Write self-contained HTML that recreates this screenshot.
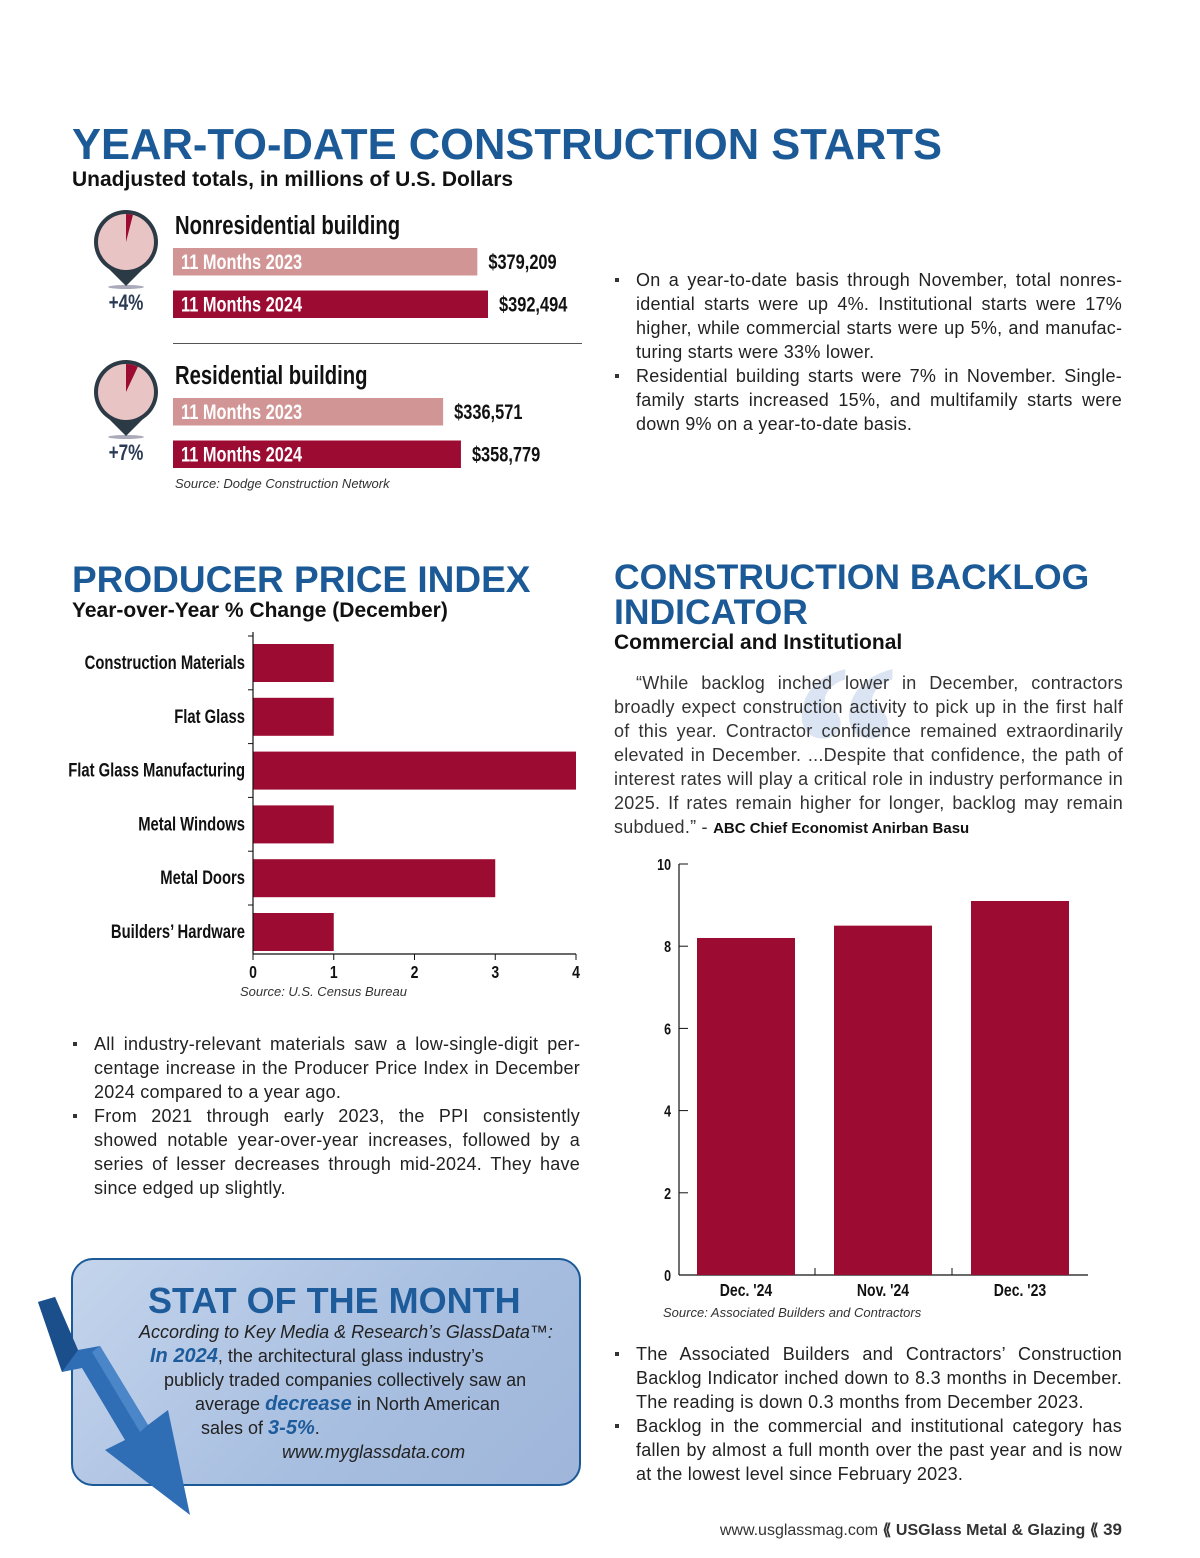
<!DOCTYPE html>
<html><head><meta charset="utf-8"><style>
body{margin:0;width:1200px;height:1558px;background:#fff;position:relative;font-family:"Liberation Sans",sans-serif;color:#222;overflow:hidden}
.a{position:absolute}
.h1{color:#1b5a96;font-weight:bold}
.sub{font-weight:bold;font-size:21px;color:#111}
.txt{font-size:18px;line-height:24px;text-align:justify;color:#222;letter-spacing:0.25px}
ul{margin:0;padding:0;list-style:none}
li{position:relative;padding-left:21px}
li:before{content:"";position:absolute;left:0;top:10px;width:4px;height:4px;background:#333}
</style></head><body>
<div class="a h1" style="left:72px;top:121px;font-size:43.5px">YEAR-TO-DATE CONSTRUCTION STARTS</div>
<div class="a sub" style="left:72px;top:168px">Unadjusted totals, in millions of U.S. Dollars</div>

<svg class="a" style="left:0;top:200px" width="600" height="300" id="starts"></svg>

<div class="a txt" style="left:615px;top:268px;width:507px"><ul>
<li>On a year-to-date basis through November, total nonres&shy;idential starts were up 4%. Institutional starts were 17% higher, while commercial starts were up 5%, and manufac&shy;turing starts were 33% lower.</li>
<li>Residential building starts were 7% in November. Sin&shy;gle-family starts increased 15%, and multifamily starts were down 9% on a year-to-date basis.</li></ul></div>

<div class="a h1" style="left:72px;top:559px;font-size:37px">PRODUCER PRICE INDEX</div>
<div class="a sub" style="left:72px;top:599px">Year-over-Year % Change (December)</div>
<svg class="a" style="left:0;top:630px" width="600" height="380" id="ppi"></svg>
<div class="a txt" style="left:73px;top:1032px;width:507px"><ul>
<li>All industry-relevant materials saw a low-single-digit per&shy;centage increase in the Producer Price Index in December 2024 compared to a year ago.</li>
<li>From 2021 through early 2023, the PPI consistently showed notable year-over-year increases, followed by a series of lesser decreases through mid-2024. They have since edged up slightly.</li></ul></div>

<div class="a" style="left:71px;top:1258px;width:506px;height:224px;border:2px solid #1b5a96;border-radius:22px;background:linear-gradient(135deg,#c4d4ec,#a7bee0 60%,#9fb6da)"></div>
<svg class="a" style="left:0;top:0" width="220" height="1558">
<polygon points="38,1302 55,1297 78,1350 100,1346 148,1425 168,1410 190,1515 105,1450 125,1440 82,1368 62,1372" fill="#2f6db5"/>
<polygon points="38,1302 55,1297 78,1350 62,1372" fill="#1b4f8c"/>
<polygon points="100,1346 148,1425 140,1432 92,1352" fill="#4a86c8"/>
</svg>
<div class="a h1" style="left:148px;top:1280px;font-size:36px;color:#1d5b9b">STAT OF THE MONTH</div>
<div class="a" style="left:0;top:1320px;font-size:18px;line-height:24px;color:#222">
<div class="a" style="left:139px;top:0;white-space:nowrap;font-style:italic">According to Key Media &amp; Research’s GlassData™:</div>
<div class="a" style="left:150px;top:24px;white-space:nowrap"><b style="color:#1d5b9b;font-style:italic;font-size:20px">In 2024</b>, the architectural glass industry’s</div>
<div class="a" style="left:164px;top:48px;white-space:nowrap">publicly traded companies collectively saw an</div>
<div class="a" style="left:195px;top:72px;white-space:nowrap">average <b style="color:#1d5b9b;font-style:italic;font-size:20px">decrease</b> in North American</div>
<div class="a" style="left:201px;top:96px;white-space:nowrap">sales of <b style="color:#1d5b9b;font-style:italic;font-size:20px">3-5%</b>.</div>
<div class="a" style="left:282px;top:120px;white-space:nowrap;font-style:italic">www.myglassdata.com</div>
</div>

<div class="a h1" style="left:614px;top:560px;font-size:35.5px;line-height:35px">CONSTRUCTION BACKLOG<br>INDICATOR</div>
<div class="a sub" style="left:614px;top:631px">Commercial and Institutional</div>
<div class="a" style="left:780px;top:630px;font-size:230px;font-family:'Liberation Serif',serif;font-style:italic;color:#dbe4f2;font-weight:bold;line-height:1">“</div>
<div class="a txt" style="left:614px;top:671px;width:509px;color:#333;text-indent:22px">“While backlog inched lower in December, contractors broadly expect construction activity to pick up in the first half of this year. Contractor confidence remained extraordinarily elevated in December. ...Despite that confidence, the path of interest rates will play a critical role in industry performance in 2025. If rates remain higher for longer, backlog may remain subdued.” - <b style="font-size:15px;color:#111;letter-spacing:0">ABC Chief Economist Anirban Basu</b></div>
<svg class="a" style="left:600px;top:850px" width="520" height="480" id="bl"></svg>
<div class="a txt" style="left:615px;top:1342px;width:507px"><ul>
<li>The Associated Builders and Contractors’ Construction Backlog Indicator inched down to 8.3 months in December. The reading is down 0.3 months from December 2023.</li>
<li>Backlog in the commercial and institutional category has fallen by almost a full month over the past year and is now at the lowest level since February 2023.</li></ul></div>

<div class="a" style="right:78px;top:1520px;font-size:16px;color:#333">www.usglassmag.com <b>⟪ USGlass Metal &amp; Glazing ⟪</b> <b style="font-size:17px">39</b></div>

<script>
const NS="http://www.w3.org/2000/svg";
function mk(svg,tag,attrs,text){const e=document.createElementNS(NS,tag);for(const k in attrs)e.setAttribute(k,attrs[k]);if(text!==undefined)e.textContent=text;svg.appendChild(e);return e;}
function ct(svg,x,y,text,size,anchor,fill,sx){return mk(svg,'text',{x:0,y:0,transform:`translate(${x},${y}) scale(${sx||0.78},1)`,'font-size':size,'font-weight':'bold','text-anchor':anchor||'start',fill:fill||'#111'},text);}

// starts data
const startGroups=["Nonresidential building","Residential building"];
const startLabels=["11 Months 2023","11 Months 2024"];
const startVals2023=[379209,336571];
const startVals2024=[392494,358779];
const startPct=["+4%","+7%"];
const startFrac=[0.04,0.07];
(function(){
 const s=document.getElementById('starts');
 const x0=173,k=315/392494;
 const xs=v=>v*k;
 startGroups.forEach((g,i)=>{
  const oy=i*150;
  let t=ct(s,175,34+oy,g,26);
  
  [startVals2023[i],startVals2024[i]].forEach((v,j)=>{
   const y=48+oy+j*42.5;
   const r=mk(s,'rect',{x:x0,y:y,width:xs(v),height:27.5,fill:j?'#9c0b32':'#d29595'});
   
   ct(s,x0+8,y+21,startLabels[j],21,'start','#fff');
   const vt=ct(s,x0+xs(v)+11,y+21,'$'+v.toLocaleString('en-US'),21);
   
  });
  const cx=126,cy=42+oy,R=28;
  mk(s,'ellipse',{cx:cx,cy:cy+45,rx:18,ry:2,fill:'#aab'});
  mk(s,'path',{d:`M${cx-22},${cy+22} L${cx},${cy+44} L${cx+22},${cy+22} Z`,fill:'#2b3a44'});
  mk(s,'circle',{cx:cx,cy:cy,r:R+4,fill:'#2b3a44'});
  mk(s,'circle',{cx:cx,cy:cy,r:R,fill:'#e9c4c4'});
  const a=startFrac[i]*2*Math.PI;
  mk(s,'path',{d:`M${cx},${cy} L${cx},${cy-R} A${R},${R} 0 0 1 ${cx+R*Math.sin(a)},${cy-R*Math.cos(a)} Z`,fill:'#9c0b32'});
  const pt=ct(s,cx,110+oy,startPct[i],22,'middle','#2b3a55');
  
 });
 mk(s,'line',{x1:173,y1:143.5,x2:582,y2:143.5,stroke:'#555','stroke-width':1});
 mk(s,'text',{x:175,y:288,'font-size':13,'font-style':'italic',fill:'#333'},'Source: Dodge Construction Network');
})();

// PPI data
const ppiCats=["Construction Materials","Flat Glass","Flat Glass Manufacturing","Metal Windows","Metal Doors","Builders’ Hardware"];
const ppiVals=[1,1,4,1,3,1];
const ppiTicks=[0,1,2,3,4];
(function(){
 const s=document.getElementById('ppi');
 const x=v=>253+v*80.75;
 const yc=i=>33+i*53.8;
 ppiCats.forEach((c,i)=>{
  const r=mk(s,'rect',{x:x(0),y:yc(i)-19,width:x(ppiVals[i])-x(0),height:38,fill:'#9c0b32'});
  
  ct(s,245,yc(i)+6,c,19,'end');
  mk(s,'line',{x1:248,y1:yc(i)-27,x2:253,y2:yc(i)-27,stroke:'#111'});
 });
 mk(s,'line',{x1:253,y1:2,x2:253,y2:324,stroke:'#111','stroke-width':1.2});
 mk(s,'line',{x1:253,y1:324,x2:576,y2:324,stroke:'#111','stroke-width':1.2});
 ppiTicks.forEach(t=>{
  mk(s,'line',{x1:x(t),y1:324,x2:x(t),y2:330,stroke:'#111'});
  ct(s,x(t),348,String(t),18,'middle');
 });
 mk(s,'text',{x:240,y:366,'font-size':13,'font-style':'italic',fill:'#333'},'Source: U.S. Census Bureau');
})();

// Backlog data
const blCats=["Dec. '24","Nov. '24","Dec. '23"];
const blVals=[8.2,8.5,9.1];
const blTicks=[0,2,4,6,8,10];
(function(){
 const s=document.getElementById('bl');
 const y=v=>425-v*41.1;
 const x0=79,x1=488,bw=98,step=137;
 mk(s,'line',{x1:x0,y1:y(10),x2:x0,y2:y(0),stroke:'#111','stroke-width':1.2});
 mk(s,'line',{x1:x0,y1:y(0),x2:x1,y2:y(0),stroke:'#111','stroke-width':1.2});
 blTicks.forEach(t=>{
  mk(s,'line',{x1:x0,y1:y(t),x2:x0+9,y2:y(t),stroke:'#111'});
  ct(s,x0-8,y(t)+6,String(t),16,'end');
 });
 blCats.forEach((c,i)=>{
  const bx=97+i*step;
  const r=mk(s,'rect',{x:bx,y:y(blVals[i]),width:bw,height:y(0)-y(blVals[i]),fill:'#9c0b32'});
  
  ct(s,bx+bw/2,y(0)+21,c,18,'middle');
  if(i>0)mk(s,'line',{x1:bx-19,y1:y(0),x2:bx-19,y2:y(0)-7,stroke:'#111'});
 });
 mk(s,'text',{x:63,y:467,'font-size':13,'font-style':'italic',fill:'#333'},'Source: Associated Builders and Contractors');
})();
</script>
</body></html>
